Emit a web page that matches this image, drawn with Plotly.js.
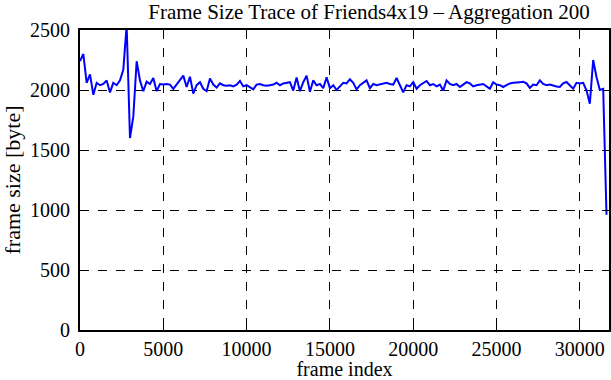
<!DOCTYPE html>
<html>
<head>
<meta charset="utf-8">
<script src="https://cdn.plot.ly/plotly-3.0.1.min.js"></script>
<style>html,body{margin:0;padding:0;background:#fff;}#chart{width:611px;height:380px;}</style>
</head>
<body>
<div id="chart"></div>
<script>
// Aggregation interval (frames per point) and frame sizes [byte]
const aggregation = 200;
const frameSizes = [
  2240, 2300, 2060, 2130, 1960, 2060, 2040, 2050, 2080, 1980, 2060, 2040, 2080, 2170, 2540, 1600, 1780, 2240, 2080, 1990, 2070, 2050, 2100, 1990, 2050,
  2045, 2050, 2045, 2010, 2050, 2080, 2120, 2025, 2110, 1970, 2040, 2065, 2010, 1990, 2095, 2045, 2020, 2055, 2040, 2035, 2040, 2030, 2045, 2075, 2030,
  2040, 2025, 2005, 2045, 2050, 2040, 2035, 2040, 2045, 2060, 2040, 2055, 2060, 2065, 1995, 2105, 1990, 2065, 2120, 1985, 2080, 2040, 2050, 2015, 2105,
  2015, 2040, 2000, 2030, 2060, 2055, 2090, 2060, 2005, 2040, 2060, 2080, 2015, 2050, 2040, 2045, 2055, 2060, 2050, 2045, 2100, 2040, 1980, 2040, 2030,
  2065, 2010, 2040, 2060, 2075, 2040, 2050, 2030, 2045, 1995, 2080, 2050, 2040, 2050, 2025, 2045, 2065, 2055, 2030, 2040, 2045, 2050, 2030, 2010, 2065,
  2045, 2040, 2025, 2040, 2055, 2060, 2060, 2065, 2068, 2055, 2017, 2045, 2040, 2080, 2050, 2040, 2045, 2035, 2030, 2025, 2055, 2067, 2040, 2011, 2060,
  2055, 2060, 1997, 1886, 2250, 2108, 2000, 2010, 960
];
const frameIndex = frameSizes.map((_, i) => i * aggregation);
const xTicks = [0, 5000, 10000, 15000, 20000, 25000, 30000];
const yTicks = [0, 500, 1000, 1500, 2000, 2500];

const family = '"Liberation Serif", "Times New Roman", serif';
const font = {family: family, size: 20, color: '#000'};

const axisBase = {
  showline: true, linecolor: '#000', linewidth: 2, mirror: 'ticks',
  ticks: 'inside', ticklen: 6, tickwidth: 1, tickcolor: '#000',
  showgrid: true, gridcolor: '#000', gridwidth: 1, griddash: 'dash',
  zeroline: false, tickfont: font
};

Plotly.newPlot('chart', [{
  x: frameIndex, y: frameSizes, type: 'scatter', mode: 'lines',
  line: {color: '#0000ff', width: 2}, showlegend: false
}], {
  width: 611, height: 380,
  margin: {l: 80, r: 2, t: 30, b: 50},
  paper_bgcolor: '#fff', plot_bgcolor: '#fff',
  font: font,
  title: {text: 'Frame Size Trace of Friends4x19 \u2013 Aggregation 200', font: {family: family, size: 21, color: '#000'}, x: 0.604, xanchor: 'center', y: 0.97, yanchor: 'middle'},
  xaxis: Object.assign({}, axisBase, {range: [0, 31750], tickvals: xTicks, ticktext: xTicks.map(String), tickfont: {family: family, size: 20, color: '#000'}, title: {text: 'frame index', font: {family: family, size: 20, color: '#000'}, standoff: 0}}),
  yaxis: Object.assign({}, axisBase, {range: [0, 2500], tickvals: yTicks, ticktext: yTicks.map(String), ticklabelstandoff: 4, tickfont: {family: family, size: 20, color: '#000'}, title: {text: 'frame size [byte]', font: {family: family, size: 22, color: '#000'}, standoff: 6}})
}, {displayModeBar: false, staticPlot: true});
</script>
</body>
</html>
